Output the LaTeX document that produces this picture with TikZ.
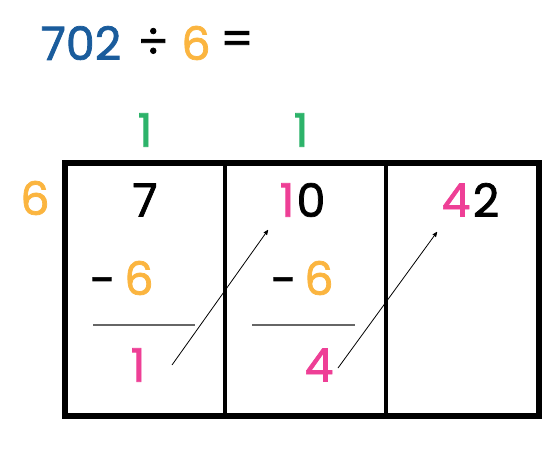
\documentclass[tikz,border=0pt]{standalone}
\usepackage{fontspec}
\setmainfont{Poppins}[FakeBold=1.6]
\usetikzlibrary{arrows}
\usetikzlibrary{positioning}
\definecolor{numblue}{HTML}{1A5C9C}
\definecolor{numorange}{HTML}{FBB540}
\definecolor{numgreen}{HTML}{2DB36A}
\definecolor{numpink}{HTML}{EE3F96}

\begin{document}
\begin{tikzpicture}[x=1pt,y=-1pt,>=stealth',
	digit/.style={inner sep=0pt,font=\fontsize{46}{46}\selectfont},
	rule line/.style={draw=black!60,line width=1.5pt}]
	\useasboundingbox (0,0) rectangle (560,450);
	
	% the sum on top
	\node[digit,text=numblue] (dividend) at (81,43) {702};
	\node[digit] (divsign) at (153,43) {÷};
	\node[digit,text=numorange] (divisor) at (196,43) {6};
	\node[digit] (equals) at (237,43) {=};
	
	% quotient digits
	\node[digit,text=numgreen] (q1) at (145,130) {1};
	\node[digit,text=numgreen] (q2) at (301,130) {1};
	
	% the frame
	\node[digit,text=numorange] (six) at (35,198) {6};
	\draw[line width=6pt] (64.5,163) rectangle (538.5,416);
	\draw[line width=3.5pt] (225,163) -- (225,416);
	\draw[line width=3.5pt] (386,163) -- (386,416);
	
	% first column
	\node[digit] (top1) at (145,200) {7};
	\node[digit,text=numorange] (sub1) at (139,278) {6};
	\node[digit,anchor=base] (minus1) at (102,296) {−};
	\draw[rule line] (93,325) -- (195,325);
	\node[digit,text=numpink] (rem1) at (138,365) {1};
	
	% second column
	\node[digit,text=numpink] (carry1) at (287,200) {1};
	\node[digit] (top2) at (311,200) {0};
	\node[digit,text=numorange] (sub2) at (319,278) {6};
	\node[digit,anchor=base] (minus2) at (283,296) {−};
	\draw[rule line] (252,325) -- (355,325);
	\node[digit,text=numpink] (rem2) at (319,365) {4};
	
	% third column
	\node[digit,text=numpink] (carry2) at (456,200) {4};
	\node[digit] (top3) at (486,200) {2};
	
	% carrying arrows
	\coordinate (from1) at (172,365);
	\coordinate (to1) at (268,230);
	\coordinate (from2) at (338,368);
	\coordinate (to2) at (437,232);
	\draw[->,line width=0.8pt] (from1) -- (to1);
	\draw[->,line width=0.8pt] (from2) -- (to2);
\end{tikzpicture}
\end{document}
